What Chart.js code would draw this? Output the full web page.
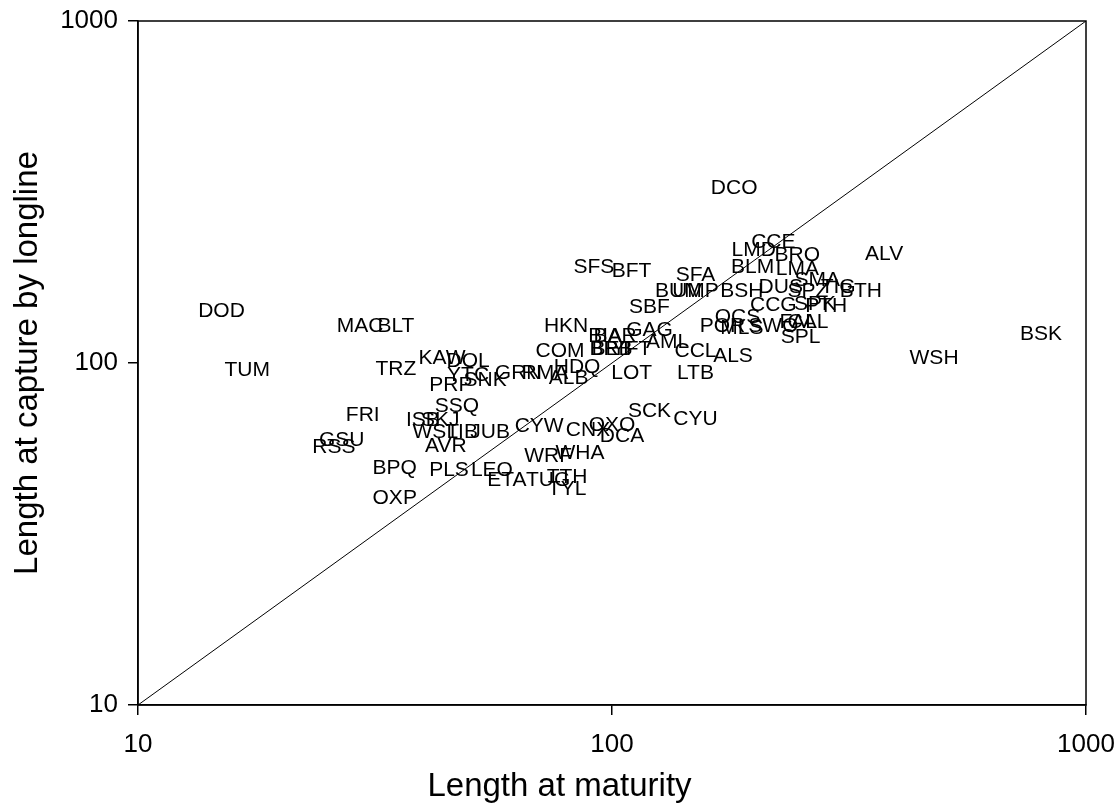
<!DOCTYPE html>
<html lang="en">
<head>
<meta charset="UTF-8">
<title>Length at capture vs length at maturity</title>
<script src="https://cdn.jsdelivr.net/npm/chart.js"></script>
<style>
    body { margin: 0; background: #ffffff; overflow: hidden; }
    #wrap { width: 1119px; height: 805px; }
</style>
</head>
<body>
<div id="wrap"><canvas id="chart" width="1119" height="805"></canvas></div>
<script>
    // species codes and the two lengths
    const codes = ['DOD','TUM','MAC','BLT','TRZ','KAW','DOL','YTC','PRP','SNK','GRN','RMA','ALB','HDQ','COM','HKN',
        'BIA','BAR','BRB','BET','YFT','GAG','SBF','SFS','BFT','SFA','BUM','UMP','BSH','OCS','POR','MLS','SWO',
        'FAL','CAL','SPL','CCG','SPK','PTH','SPZ','BTH','SMA','TIG','DUS','CCE','LMD','BRO','BLM','LMA','ALV',
        'WSH','BSK','DCO','CCL','ALS','LOT','LTB','AML','SCK','CYU','OXO','CNX','DCA','CYW','WRF','WHA','ETA',
        'TUG','TTH','TYL','LEO','PLS','BPQ','OXP','FRI','GSU','RSS','ISB','SKJ','SSQ','WST','LIB','JUB','AVR'];

    const lengthMaturity = [15, 17, 29.4, 35, 35, 43.8, 49.7, 49.7, 45.7, 54, 63.4, 72.2, 81, 84.4, 77.7, 80,
        96.7, 101.5, 99.5, 100, 110, 120, 120, 91.6, 110, 150, 138, 150, 188, 184, 171, 188, 219,
        247, 259, 250, 219, 268, 283, 259, 335, 271, 300, 227, 219, 199, 246, 198, 246, 375,
        478, 804, 181, 150, 180, 110, 150, 131, 120, 150, 100, 89, 105, 70.2, 73.3, 85.6, 60,
        73.3, 80.4, 80.4, 55.8, 45.3, 34.8, 34.8, 29.8, 26.9, 25.9, 39.9, 43.4, 47.1, 42.5, 48.3, 55.3, 44.6];

    const lengthCapture = [142, 95, 128, 128, 96, 103, 101, 92, 86, 89, 93.5, 93.5, 90, 97, 108, 128,
        120, 120, 110, 110, 110, 125, 146, 190, 185, 180, 162, 162, 162, 136, 128, 126, 128,
        132, 132, 119, 148, 149, 147, 162, 162, 175, 167, 167, 226, 213, 206, 190, 188, 208,
        103, 121, 325, 108, 105, 93.5, 93.5, 115, 72.4, 68.6, 65.9, 63.7, 61.2, 65.4, 53.5, 54.5, 45.5,
        45.3, 46.4, 42.8, 48.7, 48.7, 49.3, 40.3, 70.5, 59.6, 56.8, 68.1, 68.1, 74.9, 62.9, 62.9, 62.9, 57.2];

    const tickValues = [10, 100, 1000];
    const lineEnds = [10, 1000]; // 1:1 line

    const FONT = "'Liberation Sans', Arial, sans-serif";

    // draw each code as text on top of its (invisible) point
    const codeLabels = {
        id: 'codeLabels',
        afterDatasetsDraw(chart) {
            const ctx = chart.ctx;
            const meta = chart.getDatasetMeta(1);
            ctx.save();
            ctx.font = '21px ' + FONT;
            ctx.fillStyle = '#000000';
            ctx.textAlign = 'center';
            ctx.textBaseline = 'middle';
            meta.data.forEach((pt, i) => {
                ctx.fillText(codes[i], pt.x, pt.y);
            });
            ctx.restore();
        }
    };

    // box round the plot area
    const frame = {
        id: 'frame',
        afterDraw(chart) {
            const a = chart.chartArea;
            const ctx = chart.ctx;
            ctx.save();
            ctx.strokeStyle = '#000000';
            ctx.lineWidth = 1.5;
            ctx.strokeRect(a.left, a.top, a.right - a.left, a.bottom - a.top);
            ctx.restore();
        }
    };

    const axisCommon = {
        type: 'logarithmic',
        min: 10,
        max: 1000,
        afterBuildTicks: (s) => { s.ticks = tickValues.map(v => ({ value: v })); },
        grid: {
            display: true,
            drawOnChartArea: false,
            drawTicks: true,
            tickLength: 10,
            color: '#000000',
            lineWidth: 1.5
        },
        border: { display: true, color: '#000000', width: 1.5 }
    };

    new Chart(document.getElementById('chart'), {
        type: 'scatter',
        data: {
            datasets: [{
                type: 'line',
                data: lineEnds.map(v => ({ x: v, y: v })),
                borderColor: '#000000',
                borderWidth: 1,
                pointRadius: 0,
                fill: false
            }, {
                data: lengthMaturity.map((v, i) => ({ x: v, y: lengthCapture[i] })),
                pointRadius: 0,
                pointHoverRadius: 0
            }]
        },
        options: {
            responsive: false,
            animation: false,
            layout: { padding: { top: 21, right: 0, left: 0, bottom: 0 } },
            plugins: {
                legend: { display: false },
                tooltip: { enabled: false },
                title: {
                    display: true,
                    position: 'bottom',
                    text: 'Length at maturity',
                    color: '#000000',
                    font: { size: 33, family: FONT, weight: 'normal', lineHeight: 1.1 },
                    padding: 0
                }
            },
            scales: {
                x: {
                    ...axisCommon,
                    afterFit: (s) => { s.height = 63.7; s.paddingRight = 33; s.paddingLeft = 0; },
                    ticks: {
                        color: '#000000',
                        font: { size: 26, family: FONT },
                        padding: 14,
                        maxRotation: 0,
                        callback: (v) => String(v)
                    }
                },
                y: {
                    ...axisCommon,
                    afterFit: (s) => { s.width = 138; s.paddingTop = 0; s.paddingBottom = 0; },
                    ticks: {
                        color: '#000000',
                        font: { size: 26, family: FONT },
                        padding: 10,
                        callback: (v) => String(v)
                    },
                    title: {
                        display: true,
                        text: 'Length at capture by longline',
                        color: '#000000',
                        font: { size: 33, family: FONT },
                        padding: { top: 8, bottom: 0 }
                    }
                }
            }
        },
        plugins: [codeLabels, frame]
    });
</script>
</body>
</html>
